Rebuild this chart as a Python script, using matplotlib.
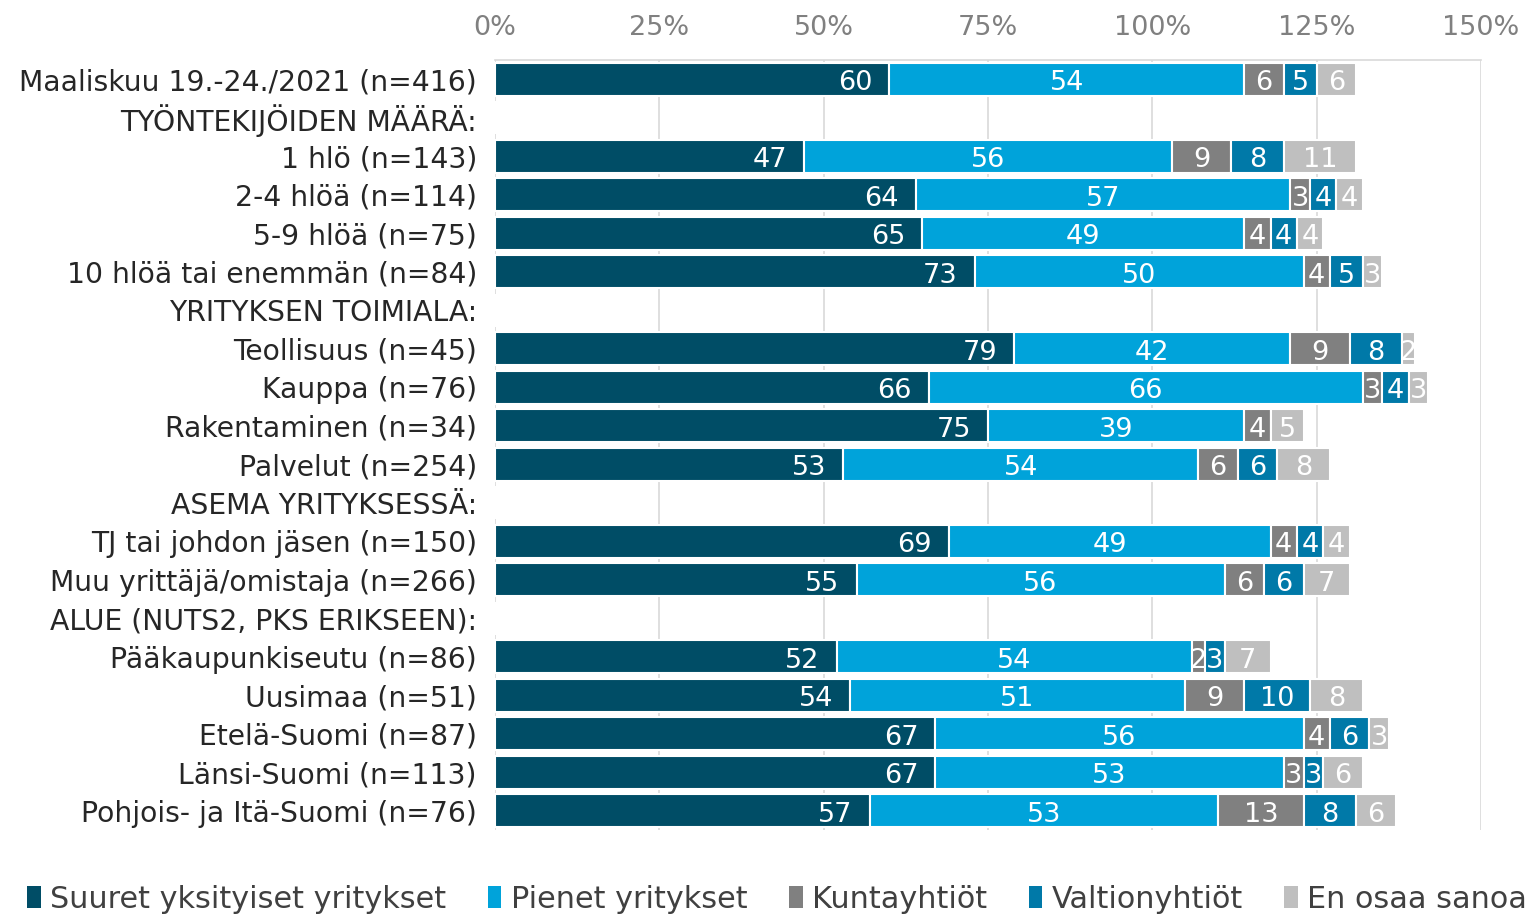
import matplotlib
matplotlib.use("Agg")
import matplotlib.pyplot as plt
from matplotlib.patches import Patch
import numpy as np

categories = [
    "Maaliskuu 19.-24./2021 (n=416)",
    "TYÖNTEKIJÖIDEN MÄÄRÄ:",
    "1 hlö (n=143)",
    "2-4 hlöä (n=114)",
    "5-9 hlöä (n=75)",
    "10 hlöä tai enemmän (n=84)",
    "YRITYKSEN TOIMIALA:",
    "Teollisuus (n=45)",
    "Kauppa (n=76)",
    "Rakentaminen (n=34)",
    "Palvelut (n=254)",
    "ASEMA YRITYKSESSÄ:",
    "TJ tai johdon jäsen (n=150)",
    "Muu yrittäjä/omistaja (n=266)",
    "ALUE (NUTS2, PKS ERIKSEEN):",
    "Pääkaupunkiseutu (n=86)",
    "Uusimaa (n=51)",
    "Etelä-Suomi (n=87)",
    "Länsi-Suomi (n=113)",
    "Pohjois- ja Itä-Suomi (n=76)",
]

series_names = ["Suuret yksityiset yritykset", "Pienet yritykset", "Kuntayhtiöt",
                "Valtionyhtiöt", "En osaa sanoa"]

# None = header row (no bar)
suuret = [60, None, 47, 64, 65, 73, None, 79, 66, 75, 53, None, 69, 55, None, 52, 54, 67, 67, 57]
pienet = [54, None, 56, 57, 49, 50, None, 42, 66, 39, 54, None, 49, 56, None, 54, 51, 56, 53, 53]
kunta  = [6, None, 9, 3, 4, 4, None, 9, 3, 4, 6, None, 4, 6, None, 2, 9, 4, 3, 13]
valtio = [5, None, 8, 4, 4, 5, None, 8, 4, 0, 6, None, 4, 6, None, 3, 10, 6, 3, 8]
eos    = [6, None, 11, 4, 4, 3, None, 2, 3, 5, 8, None, 4, 7, None, 7, 8, 3, 6, 6]

colors = ["#004D66", "#00A3DA", "#808080", "#0079A8", "#BFBFBF"]

fig = plt.figure(figsize=(15.28, 9.17), dpi=100)
ax = fig.add_axes([495/1528, 1 - 830/917, (1481 - 495)/1528, (830 - 60)/917])

series = [suuret, pienet, kunta, valtio, eos]
n = len(categories)
y = np.arange(n)
left = np.zeros(n)
for k, (vals, col) in enumerate(zip(series, colors)):
    v = np.array([0 if x is None else x for x in vals], dtype=float)
    ax.barh(y, v, left=left, height=0.86, color=col, edgecolor="white", linewidth=1.5, zorder=3)
    for i in range(n):
        if vals[i] is not None and vals[i] > 0:
            if k == 0:
                ax.text(left[i] + v[i] - 2.6, y[i] + 0.1, str(vals[i]), ha="right", va="center",
                        color="white", fontsize=19.5, zorder=4)
            else:
                ax.text(left[i] + v[i] / 2, y[i] + 0.1, str(vals[i]), ha="center", va="center",
                        color="white", fontsize=19.5, zorder=4)
    left += v

ax.set_xlim(0, 150)
ax.set_ylim(n - 0.5, -0.5)
ax.set_yticks(y)
ax.set_yticklabels(categories, fontsize=20.3, color="#262626")
ax.set_xticks([0, 25, 50, 75, 100, 125, 150])
ax.set_xticklabels(["0%", "25%", "50%", "75%", "100%", "125%", "150%"], fontsize=19.5, color="#808080")
ax.xaxis.tick_top()
ax.tick_params(axis="y", length=0, pad=13)
ax.tick_params(axis="x", length=0, pad=14)
ax.grid(axis="x", color="#D9D9D9", linewidth=1.2, zorder=0)
for s in ["left", "right", "bottom"]:
    ax.spines[s].set_visible(False)
ax.spines["top"].set_color("#D9D9D9")
ax.spines["top"].set_linewidth(1.2)

handles = [Patch(facecolor=c, edgecolor="none") for c in colors]
fig.legend(handles, series_names, loc="lower left", bbox_to_anchor=(0.0, -0.026), ncol=5,
           frameon=False, fontsize=21.8, handlelength=0.45, handleheight=0.75,
           handletextpad=0.3, columnspacing=1.38, labelcolor="#404040")

fig.savefig("out.png", dpi=100)
